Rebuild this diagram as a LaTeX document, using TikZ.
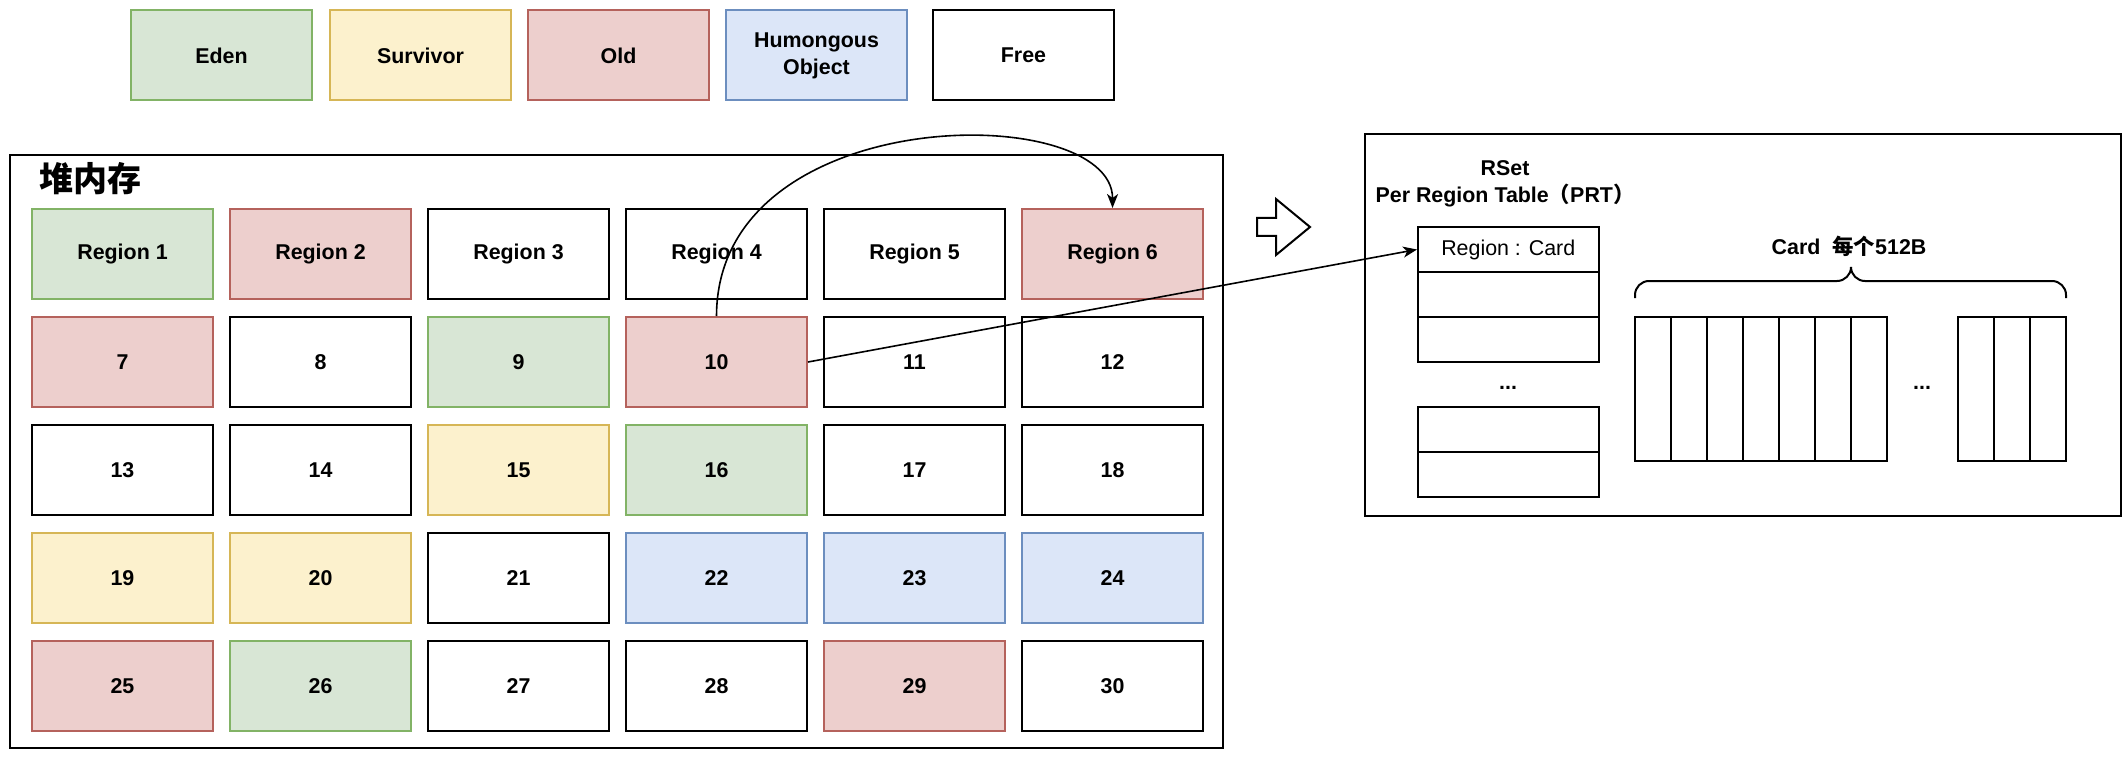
\documentclass[tikz,border=0pt]{standalone}
\usepackage{fontspec}
\setmainfont{Liberation Sans}
\newfontfamily\cjk{Noto Sans CJK SC}
\usetikzlibrary{arrows.meta}
\definecolor{edenF}{HTML}{D8E6D5}\definecolor{edenD}{HTML}{82B366}
\definecolor{survF}{HTML}{FCF1CD}\definecolor{survD}{HTML}{D6B656}
\definecolor{oldF}{HTML}{EDCFCD}\definecolor{oldD}{HTML}{B5625C}
\definecolor{humF}{HTML}{DCE6F8}\definecolor{humD}{HTML}{6C8EBF}
\tikzset{
  lbl/.style={font=\fontsize{10.7}{13.5}\selectfont\bfseries},
  cell/.style={draw, line width=1pt, minimum width=90.5pt, minimum height=45pt, inner sep=0pt, align=center, lbl},
  eden/.style={cell, fill=edenF, draw=edenD},
  surv/.style={cell, fill=survF, draw=survD},
  old/.style={cell, fill=oldF, draw=oldD},
  hum/.style={cell, fill=humF, draw=humD},
  free/.style={cell, fill=white, draw=black},
  frame/.style={draw, line width=1pt, inner sep=0pt, anchor=north west},
  prt/.style={draw, line width=1pt, minimum width=90.25pt, minimum height=22.5pt, inner sep=0pt},
  cardcol/.style={draw, line width=1pt, minimum width=17.96pt, minimum height=72pt, inner sep=0pt},
  conn/.style={line width=0.8pt, -{Stealth[length=7pt,width=5.5pt,inset=2pt]}},
}
\begin{document}
\begin{tikzpicture}[x=0.5pt, y=-0.5pt]
\useasboundingbox[fill=white] (0,0) rectangle (2124,759);
% legend
\node[eden] (leden) at (221.5,55.5) {Eden};
\node[surv] (lsurv) at (420.5,55.5) {Survivor};
\node[old]  (lold)  at (618.5,55.5) {Old};
\node[hum]  (lhum)  at (816.5,55.5) {Humongous\\Object};
\node[free] (lfree) at (1023.5,55.5) {Free};
% heap
\node[frame, minimum width=606.5pt, minimum height=296.5pt] (heap) at (9,154) {};
\node[anchor=west, inner sep=0pt, font=\cjk\bfseries\fontsize{17}{17}\selectfont] (title) at (39,179) {堆内存};
\foreach \t [count=\n from 1] in {eden,old,free,free,free,old,old,free,eden,old,free,free,free,free,surv,eden,free,free,surv,surv,free,hum,hum,hum,old,eden,free,free,old,free}{
  \pgfmathtruncatemacro{\c}{mod(\n-1,6)}
  \pgfmathtruncatemacro{\r}{div(\n-1,6)}
  \node[\t] (r\n) at ({32+198*\c+90.5},{209+108*\r+45}) {\ifnum\n<7 Region \n\else\n\fi};
}
% hollow arrow
\draw[line width=1pt, fill=white] (1257,218) -- (1276,218) -- (1276,199) -- (1310,227) -- (1276,255) -- (1276,236) -- (1257,236) -- cycle;
% RSet panel
\node[frame, minimum width=378pt, minimum height=191pt] (rset) at (1364,133) {};
\node[lbl, align=center, inner sep=0pt] (rsettitle) at (1505,184) {RSet\\[0pt]Per Region Table{\cjk （}PRT{\cjk ）}};
\node[prt, font=\fontsize{10.7}{13}\selectfont] (p1) at (1508.25,249.5) {Region : Card};
\node[prt] (p2) at (1508.25,294.5) {};
\node[prt] (p3) at (1508.25,339.5) {};
\node[lbl] (pdots) at (1508,388) {...};
\node[prt] (q1) at (1508.25,429.5) {};
\node[prt] (q2) at (1508.25,474.5) {};
% cards
\foreach \i in {1,...,7}{
  \node[cardcol] (c\i) at ({1635+35.93*(\i-0.5)},389) {};
}
\foreach \i in {1,2,3}{
  \node[cardcol] (d\i) at ({1958+36*(\i-0.5)},389) {};
}
\node[lbl] (cdots) at (1922,388) {...};
\node[lbl, inner sep=0pt] (cardlbl) at (1849,246) {Card\hspace{6pt}{\cjk 每个}512B};
\coordinate (bl) at (1635,298);
\coordinate (br) at (2066,298);
\coordinate (bm) at (1851,281);
\coordinate (bt) at (1851,267);
\draw[line width=1pt, rounded corners=7pt] (bl) |- (bm) -- (bt);
\draw[line width=1pt, rounded corners=7pt] (br) |- (bm) -- (bt);
% connectors
\draw[conn] (r10.north) .. controls (717,100) and (1113,100) .. (r6.north);
\draw[conn] (r10.east) -- (p1.west);
\end{tikzpicture}
\end{document}
